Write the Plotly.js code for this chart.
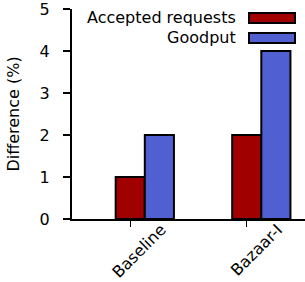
<!DOCTYPE html>
<html><head><meta charset="utf-8">
<script src="https://cdn.plot.ly/plotly-3.0.1.min.js"></script>
<style>html,body{margin:0;padding:0;background:#fff}#c{width:305px;height:282px}</style>
</head><body><div id="c"></div>
<script>
const categories = ["Baseline", "Bazaar-I"];
const acceptedRequests = [1, 2];
const goodput = [2, 4];
const seriesNames = ["Accepted requests", "Goodput"];
const yTicks = [0, 1, 2, 3, 4, 5];

const red = "#a00000", blue = "#5060d2";
const catPos = categories.map((c, i) => i);
const barW = 0.25;

const traces = [
  {type: "bar", x: catPos, y: acceptedRequests, width: barW, name: seriesNames[0],
   marker: {color: red, line: {color: "#000", width: 2}}, showlegend: false},
  {type: "bar", x: catPos.map(p => p + barW), y: goodput, width: barW, name: seriesNames[1],
   marker: {color: blue, line: {color: "#000", width: 2}}, showlegend: false}
];
const font = {family: "DejaVu Sans, Verdana, sans-serif", size: 16, color: "#000"};
const layout = {
  width: 305, height: 282,
  margin: {l: 72, r: 0, t: 9, b: 63},
  paper_bgcolor: "#fff", plot_bgcolor: "#fff",
  font: font,
  barmode: "overlay",
  xaxis: {range: [-0.5, 1.5], tickvals: catPos, ticktext: categories, tickangle: -45,
    showgrid: false, zeroline: false, showline: true, linecolor: "#000", linewidth: 2,
    ticks: "outside", ticklen: 6, tickwidth: 1, tickcolor: "#000", tickfont: font,
    ticklabelshift: 31, ticklabelstandoff: -13, ticklabeloverflow: "allow"},
  yaxis: {range: [0, 5], tickvals: yTicks, showgrid: false, zeroline: false,
    showline: true, linecolor: "#000", linewidth: 2, ticks: "outside", ticklen: 7,
    tickwidth: 2, tickcolor: "#000", tickfont: font, ticklabelstandoff: 10,
    ticklabeloverflow: "allow",
    title: {text: "Difference (%)", font: font, standoff: 16}},
  annotations: [
    {xref: "paper", yref: "paper", x: (238 - 72) / 233, y: (219 - 18) / 210, xanchor: "right",
     yanchor: "middle", text: seriesNames[0], showarrow: false, font: font},
    {xref: "paper", yref: "paper", x: (238 - 72) / 233, y: (219 - 38) / 210, xanchor: "right",
     yanchor: "middle", text: seriesNames[1], showarrow: false, font: font}
  ],
  shapes: [
    {type: "rect", xref: "paper", yref: "paper", x0: (249 - 72) / 233, x1: (295 - 72) / 233,
     y0: (219 - 23) / 210, y1: (219 - 13) / 210, fillcolor: red, line: {color: "#000", width: 2}},
    {type: "rect", xref: "paper", yref: "paper", x0: (249 - 72) / 233, x1: (295 - 72) / 233,
     y0: (219 - 43) / 210, y1: (219 - 33) / 210, fillcolor: blue, line: {color: "#000", width: 2}}
  ]
};
Plotly.newPlot("c", traces, layout, {staticPlot: true, displayModeBar: false});
</script></body></html>
